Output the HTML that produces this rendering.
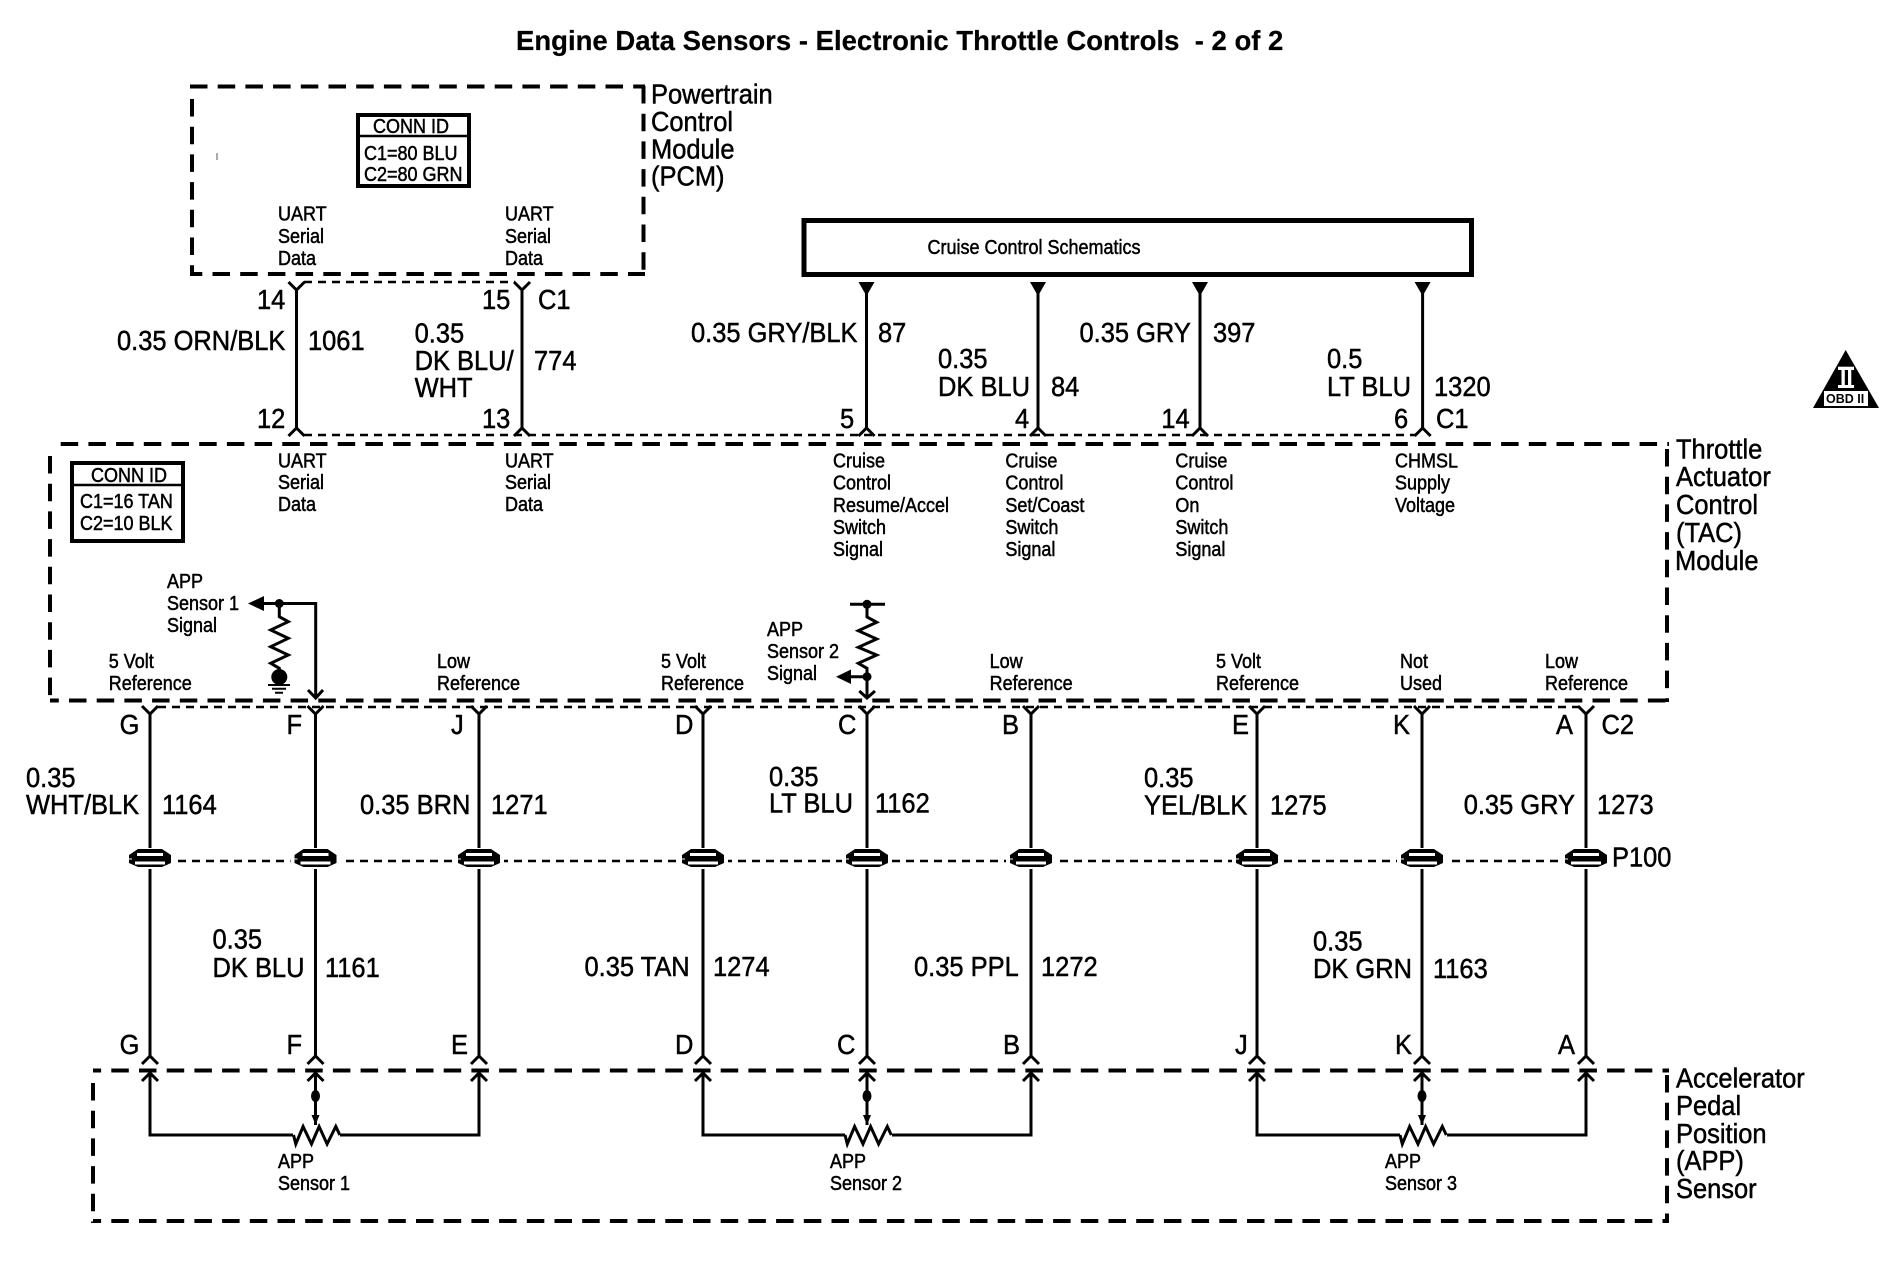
<!DOCTYPE html>
<html><head><meta charset="utf-8"><title>Engine Data Sensors</title>
<style>
html,body{margin:0;padding:0;background:#fff}
svg{display:block}
text{font-family:"Liberation Sans",Arial,sans-serif;fill:#000;white-space:pre;stroke:#000;stroke-width:.5;transform-box:fill-box;transform-origin:left center;transform:scaleX(.91)}
.b{font-size:28px}
.s{font-size:20px;transform:scaleX(.9)}
.t{font-size:28px;font-weight:bold;transform:scaleX(.983);stroke-width:.2}
.o{font-size:12.5px;font-weight:bold;stroke:none;transform:none}
.w{stroke:#000;stroke-width:3;fill:none}
.d{stroke:#000;stroke-width:4;fill:none;stroke-dasharray:17.5 10.2}
.c{stroke:#000;stroke-width:2.5;fill:none;stroke-dasharray:8 6}
</style></head><body>
<svg width="1904" height="1264" viewBox="0 0 1904 1264" xmlns="http://www.w3.org/2000/svg">
<defs>
<path id="y" class="w" stroke-width="2.5" d="M-8 0L0 8L8 0"/>
<path id="car" class="w" stroke-width="2.5" d="M-8 8L0 0L8 8"/>
<path id="tri" d="M-8 0H8L0 14Z" fill="#000"/>
<g id="sp">
<rect x="-25" y="-13" width="50" height="21" fill="#fff"/>
<path d="M-12-12H12L21-6L21-1L21 2L12 6H-12L-21 2L-21-1L-21-6Z" fill="#000"/>
<rect x="-13" y="-8" width="26" height="3" fill="#fff"/>
<rect x="-21" y="-2.500" width="3" height="1" fill="#fff"/>
<rect x="-15" y="0.500" width="30" height="3" fill="#fff"/>
</g>
<g id="pot">
<path class="w" d="M-22 0L-19.7 9L-12.4-8.5L-4 9L3.6-8.5L11.6 9L20.3-8.5L24.3 0"/>
<path class="w" d="M0-62V-10"/>
<ellipse cx="0" cy="-39" rx="4.5" ry="6" fill="#000"/>
<path d="M-4-20H4L0-10Z" fill="#000"/>
</g>
</defs>

<!-- dashed boxes -->
<path class="d" d="M190 86.500H645"/><path class="d" d="M643.500 86V274"/><path class="d" d="M192 274H645" stroke-dashoffset="7.200"/><path class="d" d="M192 99V276"/>
<path class="d" d="M60.700 444H1669"/><path class="d" d="M1667 449V702"/><path class="d" d="M50 700.500H1669" stroke-dashoffset="8.700"/><path class="d" d="M50 456V702"/>
<path class="d" d="M93 1070.500H1669" stroke-dashoffset="9.400"/><path class="d" d="M1667 1075V1223"/><path class="d" d="M93 1221H1669" stroke-dashoffset="9.400"/><path class="d" d="M93 1083V1223"/>

<!-- connector dashes -->
<path class="c" d="M304 282H515"/>
<path class="c" d="M304 435H1416"/>
<path class="c" d="M158 707H1579"/>
<path class="c" d="M150 861H1586"/>

<!-- cruise box -->
<rect x="804" y="220.500" width="667.500" height="54" fill="none" stroke="#000" stroke-width="5"/>

<!-- conn id boxes -->
<rect x="358" y="115" width="111" height="71" fill="none" stroke="#000" stroke-width="4"/><path d="M358 136H469" stroke="#000" stroke-width="2.500"/>
<rect x="72" y="463" width="111" height="78" fill="none" stroke="#000" stroke-width="4"/><path d="M72 485H183" stroke="#000" stroke-width="2.500"/>
<path d="M217 153V160" stroke="#555" stroke-width="1"/>

<!-- upper wires -->
<path class="w" d="M296.500 291V429M522 291V429M866.500 290V429M1038 290V429M1200 290V429M1422.600 290V429"/>
<use href="#y" x="296.500" y="282"/><use href="#y" x="522" y="282"/>
<use href="#tri" x="866.500" y="282"/><use href="#tri" x="1038" y="282"/><use href="#tri" x="1200" y="282"/><use href="#tri" x="1422.600" y="282"/>
<use href="#car" x="296.500" y="428"/><use href="#car" x="522" y="428"/><use href="#car" x="866.500" y="428"/><use href="#car" x="1038" y="428"/><use href="#car" x="1200" y="428"/><use href="#car" x="1422.600" y="428"/>

<!-- lower wires -->
<path class="w" d="M150 714V1056M315.500 714V1056M479 714V1056M703 714V1056M867 714V1056M1031 714V1056M1257 714V1056M1422 714V1056M1586 714V1056"/>
<use href="#y" x="150" y="706"/><use href="#y" x="315.500" y="706"/><use href="#y" x="479" y="706"/><use href="#y" x="703" y="706"/><use href="#y" x="867" y="706"/><use href="#y" x="1031" y="706"/><use href="#y" x="1257" y="706"/><use href="#y" x="1422" y="706"/><use href="#y" x="1586" y="706"/>
<use href="#sp" x="150" y="861"/><use href="#sp" x="315.500" y="861"/><use href="#sp" x="479" y="861"/><use href="#sp" x="703" y="861"/><use href="#sp" x="867" y="861"/><use href="#sp" x="1031" y="861"/><use href="#sp" x="1257" y="861"/><use href="#sp" x="1422" y="861"/><use href="#sp" x="1586" y="861"/>
<use href="#car" x="150" y="1056"/><use href="#car" x="315.500" y="1056"/><use href="#car" x="479" y="1056"/><use href="#car" x="703" y="1056"/><use href="#car" x="867" y="1056"/><use href="#car" x="1031" y="1056"/><use href="#car" x="1257" y="1056"/><use href="#car" x="1422" y="1056"/><use href="#car" x="1586" y="1056"/>
<use href="#car" x="150" y="1073"/><use href="#car" x="315.500" y="1073"/><use href="#car" x="479" y="1073"/><use href="#car" x="703" y="1073"/><use href="#car" x="867" y="1073"/><use href="#car" x="1031" y="1073"/><use href="#car" x="1257" y="1073"/><use href="#car" x="1422" y="1073"/><use href="#car" x="1586" y="1073"/>

<!-- sensor loops -->
<path class="w" d="M150 1073V1135H293M340 1135H479V1073"/>
<path class="w" d="M703 1073V1135H845M892 1135H1031V1073"/>
<path class="w" d="M1257 1073V1135H1400M1447 1135H1586V1073"/>
<use href="#pot" x="315.500" y="1135"/><use href="#pot" x="867" y="1135"/><use href="#pot" x="1422" y="1135"/>

<!-- APP sensor 1 internal -->
<path class="w" d="M262 603.500H315.700V698M308 690L315.700 698L323 690"/>
<path d="M248 603.500L264 596V611Z" fill="#000"/>
<circle cx="279.300" cy="603.500" r="4.500" fill="#000"/>
<path class="w" d="M279.300 603.500V616.700L288.300 621.700L270.700 630L288.300 638.300L270.700 646.700L288.300 655L270.700 663.300L279.300 668.300V672"/>
<circle cx="279.300" cy="677" r="8" fill="#000"/>
<path stroke="#000" stroke-width="2" d="M268 685H290M272 688.700H286M275 692.700H283"/>

<!-- APP sensor 2 internal -->
<path class="w" d="M850 604.300H885M867 604.300V617L876.700 622.300L858.300 630.700L876.700 639L858.300 647.300L876.700 655L858.300 663.300L867 668.300V698M859.300 691L867 698L875 691M848 676.700H867"/>
<circle cx="867" cy="604.300" r="4.500" fill="#000"/>
<circle cx="867" cy="676.700" r="4.500" fill="#000"/>
<path d="M836 676.700L851 669.500V684Z" fill="#000"/>

<!-- OBD -->
<path d="M1845.700 350L1813 408H1879Z" fill="#000"/>
<rect x="1824" y="391" width="44" height="15" fill="#fff"/>
<rect x="1838" y="366.700" width="16" height="3.300" fill="#fff"/>
<rect x="1838" y="385" width="16" height="3" fill="#fff"/>
<rect x="1841.500" y="370" width="3.300" height="15" fill="#fff"/>
<rect x="1848" y="370" width="3.300" height="15" fill="#fff"/>
<text class="o" x="1826" y="403">OBD II</text>

<!-- title -->
<text class="t" x="516" y="50">Engine Data Sensors - Electronic Throttle Controls  - 2 of 2</text>

<!-- big labels -->
<text class="b" x="651" y="103.500">Powertrain</text><text class="b" x="651" y="131">Control</text><text class="b" x="651" y="158.500">Module</text><text class="b" x="651" y="185.500">(PCM)</text>
<text class="b" x="257" y="309">14</text><text class="b" x="482" y="309">15</text><text class="b" x="538" y="309">C1</text>
<text class="b" x="117" y="350">0.35 ORN/BLK</text><text class="b" x="308" y="350">1061</text>
<text class="b" x="414.600" y="342.500">0.35</text><text class="b" x="414.600" y="370">DK BLU/</text><text class="b" x="414.600" y="397">WHT</text><text class="b" x="534" y="370">774</text>
<text class="b" x="691" y="342">0.35 GRY/BLK</text><text class="b" x="878" y="342">87</text>
<text class="b" x="257" y="428">12</text><text class="b" x="482" y="428">13</text><text class="b" x="840" y="428">5</text>
<text class="b" x="938" y="368">0.35</text><text class="b" x="938" y="396">DK BLU</text><text class="b" x="1051" y="396">84</text>
<text class="b" x="1079.500" y="342">0.35 GRY</text><text class="b" x="1213" y="342">397</text>
<text class="b" x="1327" y="368">0.5</text><text class="b" x="1327" y="396">LT BLU</text><text class="b" x="1434" y="396">1320</text>
<text class="b" x="1015" y="428">4</text><text class="b" x="1161.400" y="428">14</text><text class="b" x="1394" y="428">6</text><text class="b" x="1436" y="428">C1</text>
<text class="b" x="1676" y="458.600">Throttle</text><text class="b" x="1676" y="486">Actuator</text><text class="b" x="1676" y="514">Control</text><text class="b" x="1676" y="542">(TAC)</text><text class="b" x="1675" y="570">Module</text>

<text class="b" x="119.600" y="734">G</text><text class="b" x="286.500" y="734">F</text><text class="b" x="451" y="734">J</text><text class="b" x="675" y="734">D</text><text class="b" x="838" y="734">C</text><text class="b" x="1002" y="734">B</text><text class="b" x="1232" y="734">E</text><text class="b" x="1393" y="734">K</text><text class="b" x="1556" y="734">A</text><text class="b" x="1601.500" y="734">C2</text>
<text class="b" x="26" y="787">0.35</text><text class="b" x="26" y="814">WHT/BLK</text><text class="b" x="162" y="814">1164</text>
<text class="b" x="360" y="814">0.35 BRN</text><text class="b" x="491" y="814">1271</text>
<text class="b" x="769" y="786">0.35</text><text class="b" x="769" y="812.500">LT BLU</text><text class="b" x="875" y="812.500">1162</text>
<text class="b" x="1144" y="787">0.35</text><text class="b" x="1144" y="814.600">YEL/BLK</text><text class="b" x="1270" y="814.600">1275</text>
<text class="b" x="1463.700" y="814">0.35 GRY</text><text class="b" x="1597" y="814">1273</text>
<text class="b" x="1612" y="866.500">P100</text>
<text class="b" x="212.500" y="948.500">0.35</text><text class="b" x="212.500" y="977">DK BLU</text><text class="b" x="325" y="977">1161</text>
<text class="b" x="584.500" y="976">0.35 TAN</text><text class="b" x="713" y="976">1274</text>
<text class="b" x="914" y="976">0.35 PPL</text><text class="b" x="1041" y="976">1272</text>
<text class="b" x="1313" y="950.600">0.35</text><text class="b" x="1313" y="978">DK GRN</text><text class="b" x="1433" y="978">1163</text>
<text class="b" x="119.600" y="1054">G</text><text class="b" x="286.500" y="1054">F</text><text class="b" x="451" y="1054">E</text><text class="b" x="675" y="1054">D</text><text class="b" x="837" y="1054">C</text><text class="b" x="1003" y="1054">B</text><text class="b" x="1235" y="1054">J</text><text class="b" x="1395" y="1054">K</text><text class="b" x="1558" y="1054">A</text>
<text class="b" x="1676" y="1087.400">Accelerator</text><text class="b" x="1676" y="1115">Pedal</text><text class="b" x="1676" y="1142.800">Position</text><text class="b" x="1676" y="1170">(APP)</text><text class="b" x="1676" y="1198">Sensor</text>

<!-- small labels -->
<text class="s" x="373" y="133">CONN ID</text><text class="s" x="364" y="160">C1=80 BLU</text><text class="s" x="364" y="181">C2=80 GRN</text>
<text class="s" x="278" y="220.400">UART</text><text class="s" x="278" y="243">Serial</text><text class="s" x="278" y="265">Data</text>
<text class="s" x="505" y="220.400">UART</text><text class="s" x="505" y="243">Serial</text><text class="s" x="505" y="265">Data</text>
<text class="s" x="91" y="482">CONN ID</text><text class="s" x="80" y="508">C1=16 TAN</text><text class="s" x="80" y="530">C2=10 BLK</text>
<text class="s" x="278" y="467.500">UART</text><text class="s" x="278" y="489">Serial</text><text class="s" x="278" y="511">Data</text>
<text class="s" x="505" y="467.500">UART</text><text class="s" x="505" y="489">Serial</text><text class="s" x="505" y="511">Data</text>
<text class="s" x="833" y="467.500">Cruise</text><text class="s" x="833" y="489.600">Control</text><text class="s" x="833" y="512">Resume/Accel</text><text class="s" x="833" y="534">Switch</text><text class="s" x="833" y="556">Signal</text>
<text class="s" x="1005.400" y="467.500">Cruise</text><text class="s" x="1005.400" y="489.600">Control</text><text class="s" x="1005.400" y="512">Set/Coast</text><text class="s" x="1005.400" y="534">Switch</text><text class="s" x="1005.400" y="556">Signal</text>
<text class="s" x="1175.400" y="467.500">Cruise</text><text class="s" x="1175.400" y="489.600">Control</text><text class="s" x="1175.400" y="512">On</text><text class="s" x="1175.400" y="534">Switch</text><text class="s" x="1175.400" y="556">Signal</text>
<text class="s" x="1395" y="467.500">CHMSL</text><text class="s" x="1395" y="489.600">Supply</text><text class="s" x="1395" y="512">Voltage</text>
<text class="s" x="927.500" y="254">Cruise Control Schematics</text>
<text class="s" x="167" y="588">APP</text><text class="s" x="167" y="610">Sensor 1</text><text class="s" x="167" y="632">Signal</text>
<text class="s" x="767" y="636">APP</text><text class="s" x="767" y="658">Sensor 2</text><text class="s" x="767" y="680">Signal</text>
<text class="s" x="108.700" y="668">5 Volt</text><text class="s" x="108.700" y="690">Reference</text>
<text class="s" x="437" y="668">Low</text><text class="s" x="437" y="690">Reference</text>
<text class="s" x="661" y="668">5 Volt</text><text class="s" x="661" y="690">Reference</text>
<text class="s" x="989.600" y="668">Low</text><text class="s" x="989.600" y="690">Reference</text>
<text class="s" x="1216" y="668">5 Volt</text><text class="s" x="1216" y="690">Reference</text>
<text class="s" x="1400" y="668">Not</text><text class="s" x="1400" y="690">Used</text>
<text class="s" x="1545" y="668">Low</text><text class="s" x="1545" y="690">Reference</text>
<text class="s" x="278" y="1168">APP</text><text class="s" x="278" y="1190">Sensor 1</text>
<text class="s" x="830" y="1168">APP</text><text class="s" x="830" y="1190">Sensor 2</text>
<text class="s" x="1385" y="1168">APP</text><text class="s" x="1385" y="1190">Sensor 3</text>
</svg>
</body></html>
